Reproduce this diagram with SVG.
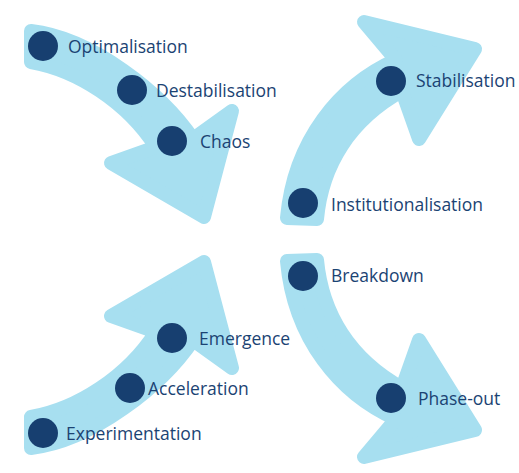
<svg xmlns="http://www.w3.org/2000/svg" xmlns:xlink="http://www.w3.org/1999/xlink" width="519" height="473" viewBox="0 0 519 473">
  <style>
    .arrow { fill: #a7dff0; stroke: #a7dff0; stroke-width: 14; stroke-linejoin: round; }
    .dot { fill: #173f70; }
    .label { font-family: "Open Sans", "Noto Sans", "Liberation Sans", sans-serif; font-size: 17.5px; fill: #1b4373; }
  </style>
  <defs>
    <!-- curved arrow sweeping down-right from the top-left corner -->
    <path id="arrow-down" d="M31,31 C92,38 162,93 193,139 L232,111 L204,217 L111,163 L156,147 C127,102 77,70 31,62 Z"/>
    <!-- curved arrow rising up-right from the centre -->
    <path id="arrow-up" d="M287,218 C294,140 340,85 396,60 L364,22 L475,49 L419,139 L402,91 C350,120 322,165 317,219 Z"/>
  </defs>

  <g id="connectors">
    <use xlink:href="#arrow-down" class="arrow"/>
    <use xlink:href="#arrow-up" class="arrow"/>
    <use xlink:href="#arrow-down" class="arrow" transform="translate(0,479) scale(1,-1)"/>
    <use xlink:href="#arrow-up" class="arrow" transform="translate(0,479) scale(1,-1)"/>
  </g>

  <g id="optimalisation">
    <circle class="dot" cx="43" cy="46" r="15"/>
    <text class="label" x="68" y="53">Optimalisation</text>
  </g>
  <g id="destabilisation">
    <circle class="dot" cx="132" cy="90" r="15"/>
    <text class="label" x="156" y="97">Destabilisation</text>
  </g>
  <g id="chaos">
    <circle class="dot" cx="172" cy="141" r="15"/>
    <text class="label" x="200" y="148">Chaos</text>
  </g>
  <g id="stabilisation">
    <circle class="dot" cx="391" cy="81" r="15"/>
    <text class="label" x="416" y="87">Stabilisation</text>
  </g>
  <g id="institutionalisation">
    <circle class="dot" cx="303" cy="203" r="15"/>
    <text class="label" x="331" y="211">Institutionalisation</text>
  </g>
  <g id="breakdown">
    <circle class="dot" cx="303" cy="276" r="15"/>
    <text class="label" x="331" y="282">Breakdown</text>
  </g>
  <g id="phase-out">
    <circle class="dot" cx="391" cy="398" r="15"/>
    <text class="label" x="418" y="405">Phase-out</text>
  </g>
  <g id="emergence">
    <circle class="dot" cx="172" cy="338" r="15"/>
    <text class="label" x="199" y="345">Emergence</text>
  </g>
  <g id="acceleration">
    <circle class="dot" cx="130" cy="388" r="15"/>
    <text class="label" x="148" y="395">Acceleration</text>
  </g>
  <g id="experimentation">
    <circle class="dot" cx="43" cy="433" r="15"/>
    <text class="label" x="66" y="440">Experimentation</text>
  </g>
</svg>
